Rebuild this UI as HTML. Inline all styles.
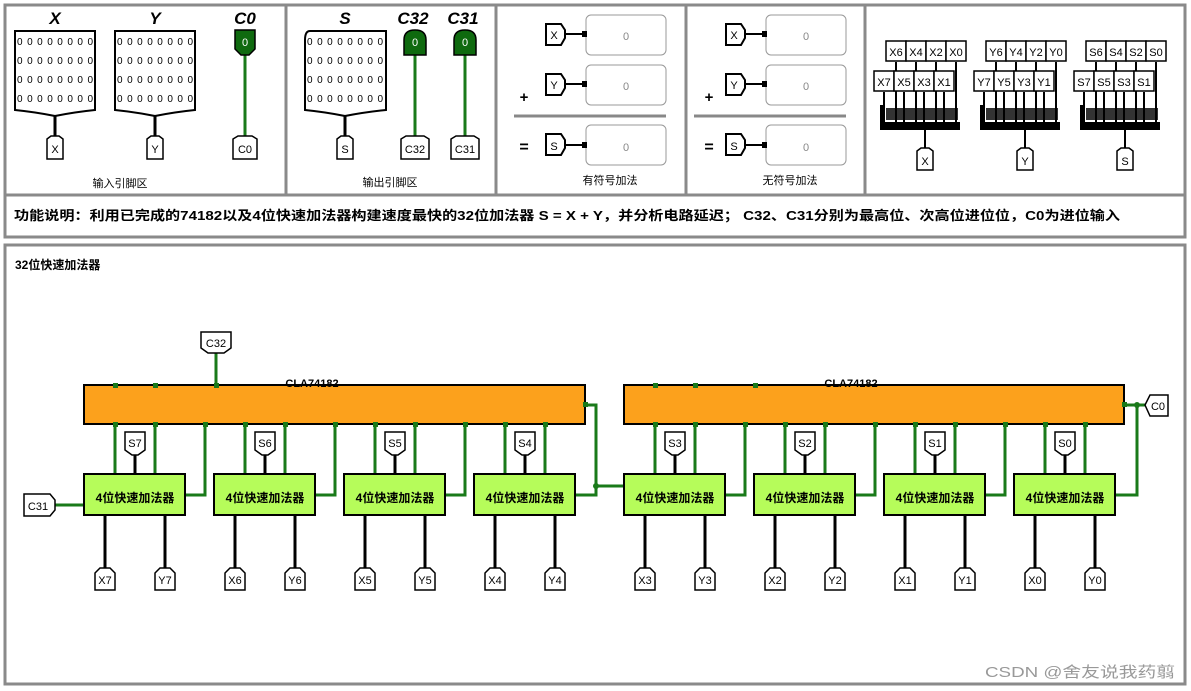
<!DOCTYPE html>
<html><head><meta charset="utf-8"><style>
html,body{margin:0;padding:0;background:#fff;}
svg{display:block;}
text{font-family:"Liberation Sans","Noto Sans CJK SC",sans-serif;}
.cj{font-family:"Liberation Sans","Noto Sans CJK SC",sans-serif;font-weight:bold;}
.lbl{font-size:11px;fill:#000;text-anchor:middle;}
</style></head><body>
<svg width="1191" height="691" viewBox="0 0 1191 691" xmlns="http://www.w3.org/2000/svg">
<g fill="none" stroke="#8a8a8a" stroke-width="3">
<rect x="5" y="5" width="1180" height="190"/>
<line x1="286" y1="5" x2="286" y2="195"/>
<line x1="496" y1="5" x2="496" y2="195"/>
<line x1="686" y1="5" x2="686" y2="195"/>
<line x1="865" y1="5" x2="865" y2="195"/>
<rect x="5" y="195" width="1180" height="42"/>
<rect x="5" y="245" width="1180" height="439"/>
</g>

<g font-family="Liberation Serif,serif" font-weight="bold" font-style="italic" font-size="17" text-anchor="middle">
<text x="55" y="24">X</text><text x="155" y="24">Y</text><text x="245" y="24">C0</text>
<text x="345" y="24">S</text><text x="413" y="24">C32</text><text x="463" y="24">C31</text>
</g>
<g fill="#fff" stroke="#000" stroke-width="2">
<path d="M15,31 H95 V110 Q75,112 55,116 Q35,112 15,110 Z"/>
<path d="M115,31 H195 V110 Q175,112 155,116 Q135,112 115,110 Z"/>
<path d="M310,31 H386 V110 Q366,112 345,116 Q325,112 305,110 V40 Q305,31 310,31 Z"/>
</g>
<g font-family="Liberation Mono,monospace" font-size="10" fill="#000">
<text x="17" y="45" textLength="76">00000000</text><text x="17" y="64" textLength="76">00000000</text><text x="17" y="83" textLength="76">00000000</text><text x="17" y="102" textLength="76">00000000</text>
<text x="117" y="45" textLength="76">00000000</text><text x="117" y="64" textLength="76">00000000</text><text x="117" y="83" textLength="76">00000000</text><text x="117" y="102" textLength="76">00000000</text>
<text x="307" y="45" textLength="76">00000000</text><text x="307" y="64" textLength="76">00000000</text><text x="307" y="83" textLength="76">00000000</text><text x="307" y="102" textLength="76">00000000</text>
</g>
<g stroke="#000" stroke-width="3"><line x1="55" y1="116" x2="55" y2="136"/><line x1="155" y1="116" x2="155" y2="136"/><line x1="345" y1="116" x2="345" y2="136"/></g>
<g stroke="#1a7a1a" stroke-width="3"><line x1="245" y1="55" x2="245" y2="136"/><line x1="415" y1="55" x2="415" y2="136"/><line x1="465" y1="55" x2="465" y2="136"/></g>
<g fill="#0f6a0f" stroke="#000" stroke-width="1.5">
<path d="M235,30 H255 V49 L249,55 H241 L235,49 Z"/>
<path d="M404,55 L404,40 Q404,30 415,30 Q426,30 426,40 L426,55 Z"/>
<path d="M454,55 L454,40 Q454,30 465,30 Q476,30 476,40 L476,55 Z"/>
</g>
<g fill="#fff" font-size="11" text-anchor="middle"><text x="245" y="46">0</text><text x="415" y="46">0</text><text x="465" y="46">0</text></g>
<g fill="#fff" stroke="#000" stroke-width="1.5">
<path d="M47,139 L51,136 H59 L63,139 V159 H47 Z"/>
<path d="M147,139 L151,136 H159 L163,139 V159 H147 Z"/>
<path d="M233,139 L238,136 H252 L257,139 V159 H233 Z"/>
<path d="M337,139 L341,136 H349 L353,139 V159 H337 Z"/>
<path d="M401,139 L406,136 H424 L429,139 V159 H401 Z"/>
<path d="M451,139 L456,136 H474 L479,139 V159 H451 Z"/>
</g>
<g><text x="55" y="153" class="lbl">X</text><text x="155" y="153" class="lbl">Y</text><text x="245" y="153" class="lbl">C0</text><text x="345" y="153" class="lbl">S</text><text x="415" y="153" class="lbl">C32</text><text x="465" y="153" class="lbl">C31</text></g>
<text x="120" y="187" font-size="11" text-anchor="middle">输入引脚区</text>
<text x="390" y="186" font-size="11" text-anchor="middle">输出引脚区</text>

<g>
<g fill="none" stroke="#999" stroke-width="1"><rect x="586" y="15" width="80" height="40" rx="5"/><rect x="586" y="65" width="80" height="40" rx="5"/><rect x="586" y="125" width="80" height="40" rx="5"/></g>
<line x1="514" y1="116" x2="666" y2="116" stroke="#888" stroke-width="3"/>
<g fill="#fff" stroke="#000" stroke-width="2">
<path d="M546,24 H561 L565,30 V38 L561,45 H546 Z"/>
<path d="M546,74 H561 L565,80 V88 L561,95 H546 Z"/>
<path d="M546,134 H561 L565,140 V148 L561,155 H546 Z"/>
</g>
<g stroke="#000" stroke-width="2"><line x1="565" y1="34" x2="586" y2="34"/><line x1="565" y1="84" x2="586" y2="84"/><line x1="565" y1="145" x2="586" y2="145"/></g>
<g fill="#000"><rect x="582" y="31" width="5" height="6"/><rect x="582" y="81" width="5" height="6"/><rect x="582" y="142" width="5" height="6"/></g>
<g font-size="11" text-anchor="middle"><text x="554" y="39">X</text><text x="554" y="89">Y</text><text x="554" y="150">S</text></g>
<g font-size="11" fill="#888" text-anchor="middle"><text x="626" y="40">0</text><text x="626" y="90">0</text><text x="626" y="151">0</text></g>
<text x="524" y="102" font-size="15" font-weight="bold" text-anchor="middle">+</text>
<text x="524" y="152" font-size="16" font-weight="bold" text-anchor="middle">=</text>
</g>
<text x="610" y="184" font-size="11" text-anchor="middle">有符号加法</text>
<g transform="translate(180,0)">
<g fill="none" stroke="#999" stroke-width="1"><rect x="586" y="15" width="80" height="40" rx="5"/><rect x="586" y="65" width="80" height="40" rx="5"/><rect x="586" y="125" width="80" height="40" rx="5"/></g>
<line x1="514" y1="116" x2="666" y2="116" stroke="#888" stroke-width="3"/>
<g fill="#fff" stroke="#000" stroke-width="2">
<path d="M546,24 H561 L565,30 V38 L561,45 H546 Z"/>
<path d="M546,74 H561 L565,80 V88 L561,95 H546 Z"/>
<path d="M546,134 H561 L565,140 V148 L561,155 H546 Z"/>
</g>
<g stroke="#000" stroke-width="2"><line x1="565" y1="34" x2="586" y2="34"/><line x1="565" y1="84" x2="586" y2="84"/><line x1="565" y1="145" x2="586" y2="145"/></g>
<g fill="#000"><rect x="582" y="31" width="5" height="6"/><rect x="582" y="81" width="5" height="6"/><rect x="582" y="142" width="5" height="6"/></g>
<g font-size="11" text-anchor="middle"><text x="554" y="39">X</text><text x="554" y="89">Y</text><text x="554" y="150">S</text></g>
<g font-size="11" fill="#888" text-anchor="middle"><text x="626" y="40">0</text><text x="626" y="90">0</text><text x="626" y="151">0</text></g>
<text x="529" y="102" font-size="15" font-weight="bold" text-anchor="middle">+</text>
<text x="529" y="152" font-size="16" font-weight="bold" text-anchor="middle">=</text>
</g>
<text x="790" y="184" font-size="11" text-anchor="middle">无符号加法</text>

<g>
<g stroke="#000" stroke-width="2">
<line x1="896" y1="62" x2="896" y2="125"/><line x1="916" y1="62" x2="916" y2="125"/><line x1="936" y1="62" x2="936" y2="125"/><line x1="956" y1="62" x2="956" y2="125"/>
<line x1="884" y1="92" x2="884" y2="125"/><line x1="904" y1="92" x2="904" y2="125"/><line x1="924" y1="92" x2="924" y2="125"/><line x1="944" y1="92" x2="944" y2="125"/>
<line x1="925" y1="130" x2="925" y2="148"/>
</g>
<rect x="880" y="122" width="80" height="8" fill="#000"/>
<rect x="880" y="105" width="4" height="20" fill="#000"/>
<g fill="#fff" stroke="#000" stroke-width="1.5">
<rect x="886" y="41" width="20" height="20"/><rect x="906" y="41" width="20" height="20"/><rect x="926" y="41" width="20" height="20"/><rect x="946" y="41" width="20" height="20"/>
<rect x="874" y="71" width="20" height="20"/><rect x="894" y="71" width="20" height="20"/><rect x="914" y="71" width="20" height="20"/><rect x="934" y="71" width="20" height="20"/>
<path d="M917,151 L921,148 H929 L933,151 V170 H917 Z"/>
</g>
<rect x="886" y="108" width="72" height="12" fill="#000" opacity="0.8"/>
</g>
<g transform="translate(100,0)">
<g stroke="#000" stroke-width="2">
<line x1="896" y1="62" x2="896" y2="125"/><line x1="916" y1="62" x2="916" y2="125"/><line x1="936" y1="62" x2="936" y2="125"/><line x1="956" y1="62" x2="956" y2="125"/>
<line x1="884" y1="92" x2="884" y2="125"/><line x1="904" y1="92" x2="904" y2="125"/><line x1="924" y1="92" x2="924" y2="125"/><line x1="944" y1="92" x2="944" y2="125"/>
<line x1="925" y1="130" x2="925" y2="148"/>
</g>
<rect x="880" y="122" width="80" height="8" fill="#000"/>
<rect x="880" y="105" width="4" height="20" fill="#000"/>
<g fill="#fff" stroke="#000" stroke-width="1.5">
<rect x="886" y="41" width="20" height="20"/><rect x="906" y="41" width="20" height="20"/><rect x="926" y="41" width="20" height="20"/><rect x="946" y="41" width="20" height="20"/>
<rect x="874" y="71" width="20" height="20"/><rect x="894" y="71" width="20" height="20"/><rect x="914" y="71" width="20" height="20"/><rect x="934" y="71" width="20" height="20"/>
<path d="M917,151 L921,148 H929 L933,151 V170 H917 Z"/>
</g>
<rect x="886" y="108" width="72" height="12" fill="#000" opacity="0.8"/>
</g>
<g transform="translate(200,0)">
<g stroke="#000" stroke-width="2">
<line x1="896" y1="62" x2="896" y2="125"/><line x1="916" y1="62" x2="916" y2="125"/><line x1="936" y1="62" x2="936" y2="125"/><line x1="956" y1="62" x2="956" y2="125"/>
<line x1="884" y1="92" x2="884" y2="125"/><line x1="904" y1="92" x2="904" y2="125"/><line x1="924" y1="92" x2="924" y2="125"/><line x1="944" y1="92" x2="944" y2="125"/>
<line x1="925" y1="130" x2="925" y2="148"/>
</g>
<rect x="880" y="122" width="80" height="8" fill="#000"/>
<rect x="880" y="105" width="4" height="20" fill="#000"/>
<g fill="#fff" stroke="#000" stroke-width="1.5">
<rect x="886" y="41" width="20" height="20"/><rect x="906" y="41" width="20" height="20"/><rect x="926" y="41" width="20" height="20"/><rect x="946" y="41" width="20" height="20"/>
<rect x="874" y="71" width="20" height="20"/><rect x="894" y="71" width="20" height="20"/><rect x="914" y="71" width="20" height="20"/><rect x="934" y="71" width="20" height="20"/>
<path d="M917,151 L921,148 H929 L933,151 V170 H917 Z"/>
</g>
<rect x="886" y="108" width="72" height="12" fill="#000" opacity="0.8"/>
</g>
<g font-size="11" text-anchor="middle">
<text x="896" y="56">X6</text><text x="916" y="56">X4</text><text x="936" y="56">X2</text><text x="956" y="56">X0</text>
<text x="884" y="86">X7</text><text x="904" y="86">X5</text><text x="924" y="86">X3</text><text x="944" y="86">X1</text><text x="925" y="165">X</text>
<text x="996" y="56">Y6</text><text x="1016" y="56">Y4</text><text x="1036" y="56">Y2</text><text x="1056" y="56">Y0</text>
<text x="984" y="86">Y7</text><text x="1004" y="86">Y5</text><text x="1024" y="86">Y3</text><text x="1044" y="86">Y1</text><text x="1025" y="165">Y</text>
<text x="1096" y="56">S6</text><text x="1116" y="56">S4</text><text x="1136" y="56">S2</text><text x="1156" y="56">S0</text>
<text x="1084" y="86">S7</text><text x="1104" y="86">S5</text><text x="1124" y="86">S3</text><text x="1144" y="86">S1</text><text x="1125" y="165">S</text>
</g>

<text x="14" y="220" class="cj" font-size="13" textLength="1106" lengthAdjust="spacingAndGlyphs">功能说明：利用已完成的74182以及4位快速加法器构建速度最快的32位加法器 S = X + Y，并分析电路延迟；    C32、C31分别为最高位、次高位进位位，C0为进位输入</text>
<text x="15" y="269" class="cj" font-size="12">32位快速加法器</text>

<g stroke="#1a7a1a" stroke-width="3" fill="none">
<line x1="216" y1="353" x2="216" y2="385"/>
<path d="M115,424V474M155,424V474M185,495H205V424"/>
<path d="M245,424V474M285,424V474M315,495H335V424"/>
<path d="M375,424V474M415,424V474M445,495H465V424"/>
<path d="M505,424V474M545,424V474M575,495H596V405H585"/>
<path d="M655,424V474M695,424V474M725,495H745V424"/>
<path d="M785,424V474M825,424V474M855,495H875V424"/>
<path d="M915,424V474M955,424V474M985,495H1005V424"/>
<path d="M1045,424V474M1085,424V474M1115,495H1137V405H1124M1137,405H1145"/>
<path d="M596,486H624"/>
<path d="M55,505H84"/>
</g>
<rect x="84" y="385" width="501" height="39" fill="#fca11c" stroke="#000" stroke-width="2"/>
<rect x="624" y="385" width="500" height="39" fill="#fca11c" stroke="#000" stroke-width="2"/>
<g fill="#1a7a1a">
<circle cx="596" cy="486" r="3"/><circle cx="1137" cy="405" r="3"/>
<rect x="113" y="383" width="5" height="5"/><rect x="153" y="383" width="5" height="5"/><rect x="214" y="383" width="5" height="5"/>
<rect x="653" y="383" width="5" height="5"/><rect x="693" y="383" width="5" height="5"/><rect x="753" y="383" width="5" height="5"/>
<rect x="583" y="402" width="5" height="5"/><rect x="1122" y="402" width="5" height="5"/>
<rect x="113" y="422" width="5" height="5"/><rect x="153" y="422" width="5" height="5"/><rect x="203" y="422" width="5" height="5"/>
<rect x="243" y="422" width="5" height="5"/><rect x="283" y="422" width="5" height="5"/><rect x="333" y="422" width="5" height="5"/>
<rect x="373" y="422" width="5" height="5"/><rect x="413" y="422" width="5" height="5"/><rect x="463" y="422" width="5" height="5"/>
<rect x="503" y="422" width="5" height="5"/><rect x="543" y="422" width="5" height="5"/>
<rect x="653" y="422" width="5" height="5"/><rect x="693" y="422" width="5" height="5"/><rect x="743" y="422" width="5" height="5"/>
<rect x="783" y="422" width="5" height="5"/><rect x="823" y="422" width="5" height="5"/><rect x="873" y="422" width="5" height="5"/>
<rect x="913" y="422" width="5" height="5"/><rect x="953" y="422" width="5" height="5"/><rect x="1003" y="422" width="5" height="5"/>
<rect x="1043" y="422" width="5" height="5"/><rect x="1083" y="422" width="5" height="5"/>
</g>
<text x="312" y="387" font-size="11" font-weight="bold" text-anchor="middle">CLA74182</text>
<text x="851" y="387" font-size="11" font-weight="bold" text-anchor="middle">CLA74182</text>

<g stroke="#000" stroke-width="3">
<path d="M135,455V474M105,515V568M165,515V568"/>
<path d="M265,455V474M235,515V568M295,515V568"/>
<path d="M395,455V474M365,515V568M425,515V568"/>
<path d="M525,455V474M495,515V568M555,515V568"/>
<path d="M675,455V474M645,515V568M705,515V568"/>
<path d="M805,455V474M775,515V568M835,515V568"/>
<path d="M935,455V474M905,515V568M965,515V568"/>
<path d="M1065,455V474M1035,515V568M1095,515V568"/>
</g>
<g fill="#b6fc5a" stroke="#000" stroke-width="2">
<rect x="84" y="474" width="101" height="41"/><rect x="214" y="474" width="101" height="41"/><rect x="344" y="474" width="101" height="41"/><rect x="474" y="474" width="101" height="41"/>
<rect x="624" y="474" width="101" height="41"/><rect x="754" y="474" width="101" height="41"/><rect x="884" y="474" width="101" height="41"/><rect x="1014" y="474" width="101" height="41"/>
</g>
<g class="cj" font-size="12" text-anchor="middle">
<text x="135" y="502">4位快速加法器</text><text x="265" y="502">4位快速加法器</text><text x="395" y="502">4位快速加法器</text><text x="525" y="502">4位快速加法器</text>
<text x="675" y="502">4位快速加法器</text><text x="805" y="502">4位快速加法器</text><text x="935" y="502">4位快速加法器</text><text x="1065" y="502">4位快速加法器</text>
</g>
<g fill="#fff" stroke="#000" stroke-width="1.5">
<path d="M125,432H145V450L138,455H132L125,450Z"/><path d="M255,432H275V450L268,455H262L255,450Z"/><path d="M385,432H405V450L398,455H392L385,450Z"/><path d="M515,432H535V450L528,455H522L515,450Z"/>
<path d="M665,432H685V450L678,455H672L665,450Z"/><path d="M795,432H815V450L808,455H802L795,450Z"/><path d="M925,432H945V450L938,455H932L925,450Z"/><path d="M1055,432H1075V450L1068,455H1062L1055,450Z"/>
<path d="M201,332H231V348L224,353H208L201,348Z"/>
<path d="M24,494H50L55,500V510L50,516H24Z"/>
<path d="M1145,405L1150,395H1168V416H1150Z"/>
</g>
<g fill="#fff" stroke="#000" stroke-width="1.5">
<path d="M95,573L100,568H110L115,573V590H95Z"/><path d="M155,573L160,568H170L175,573V590H155Z"/>
<path d="M225,573L230,568H240L245,573V590H225Z"/><path d="M285,573L290,568H300L305,573V590H285Z"/>
<path d="M355,573L360,568H370L375,573V590H355Z"/><path d="M415,573L420,568H430L435,573V590H415Z"/>
<path d="M485,573L490,568H500L505,573V590H485Z"/><path d="M545,573L550,568H560L565,573V590H545Z"/>
<path d="M635,573L640,568H650L655,573V590H635Z"/><path d="M695,573L700,568H710L715,573V590H695Z"/>
<path d="M765,573L770,568H780L785,573V590H765Z"/><path d="M825,573L830,568H840L845,573V590H825Z"/>
<path d="M895,573L900,568H910L915,573V590H895Z"/><path d="M955,573L960,568H970L975,573V590H955Z"/>
<path d="M1025,573L1030,568H1040L1045,573V590H1025Z"/><path d="M1085,573L1090,568H1100L1105,573V590H1085Z"/>
</g>
<g font-size="11" text-anchor="middle">
<text x="135" y="447">S7</text><text x="265" y="447">S6</text><text x="395" y="447">S5</text><text x="525" y="447">S4</text>
<text x="675" y="447">S3</text><text x="805" y="447">S2</text><text x="935" y="447">S1</text><text x="1065" y="447">S0</text>
<text x="216" y="347">C32</text><text x="38" y="510">C31</text><text x="1158" y="410">C0</text>
<text x="105" y="584">X7</text><text x="165" y="584">Y7</text><text x="235" y="584">X6</text><text x="295" y="584">Y6</text>
<text x="365" y="584">X5</text><text x="425" y="584">Y5</text><text x="495" y="584">X4</text><text x="555" y="584">Y4</text>
<text x="645" y="584">X3</text><text x="705" y="584">Y3</text><text x="775" y="584">X2</text><text x="835" y="584">Y2</text>
<text x="905" y="584">X1</text><text x="965" y="584">Y1</text><text x="1035" y="584">X0</text><text x="1095" y="584">Y0</text>
</g>
<text x="985" y="677" font-size="15" fill="#999" textLength="190" lengthAdjust="spacingAndGlyphs">CSDN @舍友说我药翦</text>
</svg>
</body></html>
